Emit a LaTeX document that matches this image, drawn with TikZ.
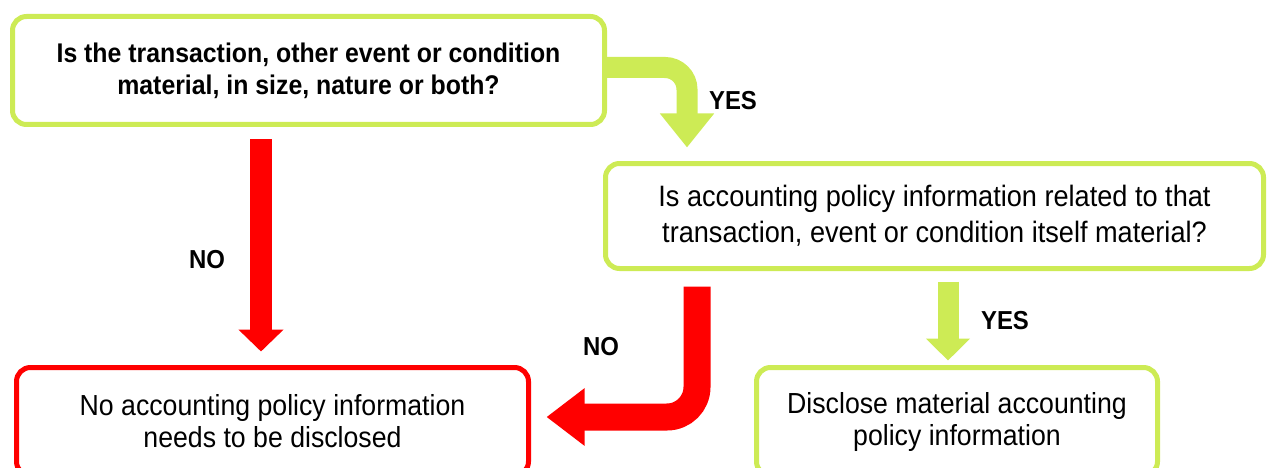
\documentclass[tikz,border=0pt]{standalone}
\usepackage{fontspec}
\setmainfont{Liberation Sans}[FakeStretch=0.92]
\usetikzlibrary{arrows.meta, positioning}
\definecolor{mylime}{RGB}{205,235,85}
\definecolor{myred}{RGB}{255,0,0}
\tikzset{
  qbox/.style={draw=mylime, line width=5pt, rounded corners=14pt, align=center,
    font=\fontsize{29}{32}\selectfont},
  nobox/.style={qbox, draw=myred},
  yesarrow/.style={mylime, line width=21pt, rounded corners=22pt,
    -{Triangle[width=52pt, length=34pt]}},
  noarrow/.style={myred, line width=22pt, rounded corners=22pt,
    -{Triangle[width=44pt, length=22pt]}},
  answer/.style={font=\bfseries\fontsize{26}{28}\selectfont},
}

\begin{document}
\begin{tikzpicture}[x=1pt, y=-1pt]
  \useasboundingbox (0,0) rectangle (1271,468);

  \node[qbox, font=\bfseries\fontsize{27}{32}\selectfont,
    minimum width=592pt, minimum height=108pt] (q1) at (308.5,70.5)
    {Is the transaction, other event or condition\\material, in size, nature or both?};
  \node[qbox, font=\fontsize{29.5}{36}\selectfont,
    minimum width=658pt, minimum height=105pt] (q2) at (934.5,216)
    {Is accounting policy information related to that\\transaction, event or condition itself material?};
  \node[nobox, minimum width=512pt, minimum height=108pt] (none) at (272.5,421.5)
    {No accounting policy information\\needs to be disclosed};
  \node[qbox, minimum width=401pt, minimum height=108pt] (disclose) at (957,421.5)
    {Disclose material accounting\\policy information};

  % yes branches
  \draw[yesarrow] ([yshift=3pt]q1.east) -| ([xshift=-247.5pt, yshift=13.5pt]q2.north);
  \draw[yesarrow, -{Triangle[width=43pt, length=22pt]}]
    ([xshift=13.5pt, yshift=-10.5pt]q2.south) -- ([xshift=-9pt, yshift=4.5pt]disclose.north);

  % no branches
  \draw[noarrow] ([xshift=-47.5pt, yshift=-12.5pt]q1.south) -- ([xshift=-11.5pt, yshift=13.5pt]none.north);
  \draw[noarrow, line width=27pt, rounded corners=30pt, -{Triangle[width=55pt, length=38pt]}]
    ([xshift=-237.5pt, yshift=-15.5pt]q2.south) |- ([xshift=15.5pt, yshift=4.5pt]none.east);

  \node[answer] (yes1) at (733,101) {YES};
  \node[answer] (yes2) at (1005,321) {YES};
  \node[answer] (no1) at (207,260) {NO};
  \node[answer] (no2) at (601,347) {NO};
\end{tikzpicture}
\end{document}
